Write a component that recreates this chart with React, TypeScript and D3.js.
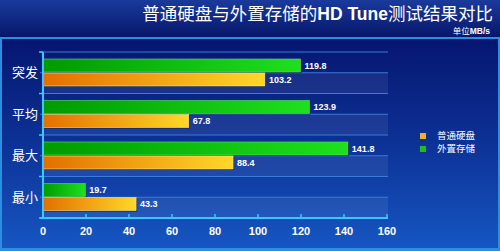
import React from "react";
import * as d3 from "d3";

const categories = ["突发", "平均", "最大", "最小"];
const hddValues = [103.2, 67.8, 88.4, 43.3];
const extValues = [119.8, 123.9, 141.8, 19.7];
const xTicks = [0, 20, 40, 60, 80, 100, 120, 140, 160];
const seriesNames = ["普通硬盘", "外置存储"];
const title = "普通硬盘与外置存储的";
const titleBold = "HD Tune";
const titleEnd = "测试结果对比";
const unit = "单位";
const unitBold = "MB/s";

const W = 500;
const H = 251;

export default function App() {
  const x = d3.scaleLinear().domain([0, 160]).range([43, 387]);
  const y = d3.scaleBand<string>().domain(categories).range([52, 218]).padding(0);
  const bw = y.bandwidth();
  const barH = 13;
  const cjk = "'Noto Sans CJK SC', 'Noto Sans', sans-serif";
  const arial = "'Liberation Sans', Arial, sans-serif";
  const gridYs: number[] = [];
  categories.forEach((c) => {
    gridYs.push(y(c)!);
    gridYs.push(y(c)! + bw / 2);
  });
  return (
    <svg width={W} height={H} style={{ position: "fixed", left: 0, top: 0 }}>
      <defs>
        <linearGradient id="banner" x1="0" y1="0" x2="0" y2="1">
          <stop offset="0" stopColor="#1a3a9c" />
          <stop offset="1" stopColor="#07176a" />
        </linearGradient>
        <linearGradient id="bg" x1="0" y1="0" x2="0" y2="1">
          <stop offset="0" stopColor="#061670" />
          <stop offset="0.5" stopColor="#0c3296" />
          <stop offset="1" stopColor="#1656c2" />
        </linearGradient>
        <linearGradient id="orange" x1="0" y1="0" x2="1" y2="0">
          <stop offset="0" stopColor="#e46e00" />
          <stop offset="1" stopColor="#ffd828" />
        </linearGradient>
        <linearGradient id="green" x1="0" y1="0" x2="1" y2="0">
          <stop offset="0" stopColor="#009a00" />
          <stop offset="1" stopColor="#1ee01e" />
        </linearGradient>
      </defs>
      <rect x={0} y={0} width={W} height={H} fill="#2a8fe0" />
      <rect x={0} y={0} width={W} height={37} fill="url(#banner)" />
      <rect x={2} y={39} width={W - 4} height={H - 42} fill="url(#bg)" />
      <text x={493} y={20} textAnchor="end" fill="#fff" fontSize={17.5} fontFamily={cjk}>
        {title}
        <tspan fontFamily={arial} fontWeight="bold">{titleBold}</tspan>
        {titleEnd}
      </text>
      <text x={490} y={34} textAnchor="end" fill="#fff" fontSize={8.5} fontFamily={cjk}>
        {unit}
        <tspan fontFamily={arial} fontWeight="bold">{unitBold}</tspan>
      </text>
      {categories.map((c) => (
        <rect key={"s" + c} x={x(0)} y={y(c)! + bw / 2} width={x(160) - x(0) + 1} height={bw / 2} fill="#ffffff" opacity={0.07} />
      ))}
      {gridYs.map((g, i) => (
        <line key={"g" + i} x1={40} x2={388} y1={g} y2={g} stroke="#3b7ad8" strokeWidth={1} />
      ))}
      {categories.map((c, i) => {
        const y0 = y(c)!;
        return (
          <g key={c}>
            <rect x={x(0) + 1} y={y0 + 8} width={x(extValues[i]) - x(0)} height={barH} fill="#06204a" opacity={0.8} />
            <rect x={x(0)} y={y0 + 7} width={x(extValues[i]) - x(0)} height={barH} fill="url(#green)" stroke="#5ce05c" strokeWidth={0.6} />
            <rect x={x(0) + 1} y={y0 + 22} width={x(hddValues[i]) - x(0)} height={barH} fill="#06204a" opacity={0.8} />
            <rect x={x(0)} y={y0 + 21} width={x(hddValues[i]) - x(0)} height={barH} fill="url(#orange)" stroke="#ffe680" strokeWidth={0.6} />
            <text x={x(extValues[i]) + 4} y={y0 + 7 + barH / 2} dy="0.35em" fill="#fff" fontSize={9} fontWeight="bold" fontFamily={arial}>
              {extValues[i]}
            </text>
            <text x={x(hddValues[i]) + 4} y={y0 + 21 + barH / 2} dy="0.35em" fill="#fff" fontSize={9} fontWeight="bold" fontFamily={arial}>
              {hddValues[i]}
            </text>
            <text x={25} y={y0 + bw / 2} dy="0.35em" textAnchor="middle" fill="#fff" fontSize={13} fontFamily={cjk}>
              {c}
            </text>
          </g>
        );
      })}
      {categories.concat(["end"]).map((c, i) => {
        const yy = i < categories.length ? y(c)! : 218;
        return <line key={"lt" + i} x1={39} x2={43} y1={yy} y2={yy} stroke="#38c8ff" strokeWidth={1.5} />;
      })}
      <line x1={x(0)} x2={x(0)} y1={52} y2={219} stroke="#38c8ff" strokeWidth={2} />
      <line x1={40} x2={388} y1={218} y2={218} stroke="#38c8ff" strokeWidth={2} />
      {xTicks.map((t) => (
        <g key={"t" + t}>
          <line x1={x(t)} x2={x(t)} y1={214} y2={218} stroke="#38c8ff" strokeWidth={1.5} />
          <text x={x(t)} y={235} textAnchor="middle" fill="#fff" fontSize={11} fontWeight="bold" fontFamily={arial}>
            {t}
          </text>
        </g>
      ))}
      {seriesNames.map((s, i) => (
        <g key={s}>
          <rect x={420} y={133 + i * 13} width={6} height={6} fill={i === 0 ? "#f5b020" : "#18c018"} />
          <text x={437} y={136 + i * 13} dy="0.35em" fill="#fff" fontSize={9.5} fontFamily={cjk}>
            {s}
          </text>
        </g>
      ))}
    </svg>
  );
}
